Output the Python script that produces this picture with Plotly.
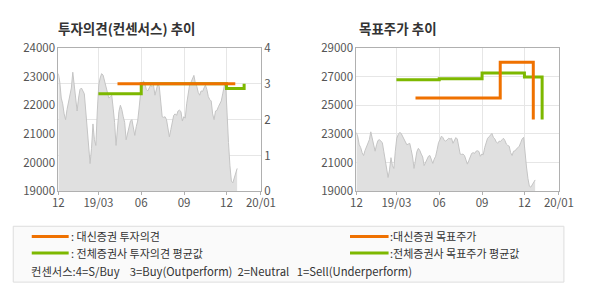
import plotly.graph_objects as go
import pandas as pd

# ---------------- data ----------------
price_start = "2018-12-05"
price_end = "2019-12-24"
price = [23100, 22800, 22250, 22050, 21700, 21500, 21850, 22100, 22250, 22600,
         23150, 22750, 22200, 21800, 22250, 22550, 22600, 22500, 22400, 21800,
         21100, 20450, 19970, 20500, 21350, 20800, 20600, 21800, 22700, 22950,
         23100, 23050, 22850, 22700, 22440, 22250, 22300, 22350, 21900, 21400,
         20600, 21300, 21780, 22000, 21850, 21600, 21400, 20800, 21000, 21300,
         21450, 21500, 21200, 20950, 21250, 21450, 21900, 22400, 22600, 22850,
         22750, 22550, 22500, 22600, 22700, 22650, 22700, 22350, 22600, 22750,
         22650, 22100, 21600, 21580, 21600, 21500, 21230, 20900, 21150, 21400,
         21650, 21700, 21650, 21800, 21830, 21780, 21450, 21600, 21550, 22050,
         22450, 22700, 22800, 22900, 23040, 22770, 22660, 22450, 22350, 22500,
         22480, 22600, 22700, 22550, 22300, 22200, 22150, 21700, 21500, 21800,
         21820, 21950, 22050, 22150, 22400, 22660, 22770, 21500, 20700, 19900,
         19360, 19300, 19500, 19700, 19800]

op_dates = ["2019-04-11", "2019-12-20"]          # 대신증권 투자의견
op_vals = [3, 3]
cons_op_dates = ["2019-03-01", "2019-06-01", "2019-12-01", "2020-01-08"]
cons_op_vals = [2.72, 3.0, 2.87, 3.0]             # 전체증권사 투자의견 평균값

tp_dates = ["2019-04-11", "2019-10-10", "2019-12-20"]   # 대신증권 목표주가
tp_vals = [25500, 28000, 24000]
cons_tp_dates = ["2019-03-01", "2019-06-01", "2019-09-01", "2019-12-01", "2020-01-08"]
cons_tp_vals = [26780, 26850, 27250, 26970, 24000]      # 전체증권사 목표주가 평균값

x_range = ["2018-12-05", "2020-02-13"]
tick_dates = ["2018-12-05", "2019-03-01", "2019-06-01", "2019-09-01", "2019-12-01", "2020-02-13"]
tick_text = ["12", "19/03", "06", "09", "12", "20/01"]

# ---------------- style ----------------
ORANGE = "#EF7100"
GREEN = "#7DB800"
W, H = 590, 300
FONT = "Noto Sans CJK KR, Liberation Sans, sans-serif"

def px(x):
    return x / W

def py(y):
    return 1 - y / H

dates = pd.date_range(price_start, price_end, periods=len(price))

fig = go.Figure()

# left chart
fig.add_trace(go.Scatter(x=dates, y=price, mode="lines", fill="tozeroy",
                         fillcolor="#e0e0e0", line=dict(color="#c4c4c4", width=1),
                         xaxis="x", yaxis="y", showlegend=False))
fig.add_trace(go.Scatter(x=cons_op_dates, y=cons_op_vals, mode="lines",
                         line=dict(color=GREEN, width=3, shape="hv"),
                         xaxis="x", yaxis="y2", showlegend=False))
fig.add_trace(go.Scatter(x=op_dates, y=op_vals, mode="lines",
                         line=dict(color=ORANGE, width=3, shape="hv"),
                         xaxis="x", yaxis="y2", showlegend=False))

# right chart
fig.add_trace(go.Scatter(x=dates, y=price, mode="lines", fill="tozeroy",
                         fillcolor="#e0e0e0", line=dict(color="#c4c4c4", width=1),
                         xaxis="x2", yaxis="y3", showlegend=False))
fig.add_trace(go.Scatter(x=cons_tp_dates, y=cons_tp_vals, mode="lines",
                         line=dict(color=GREEN, width=3, shape="hv"),
                         xaxis="x2", yaxis="y3", showlegend=False))
fig.add_trace(go.Scatter(x=tp_dates, y=tp_vals, mode="lines",
                         line=dict(color=ORANGE, width=3, shape="hv"),
                         xaxis="x2", yaxis="y3", showlegend=False))

tickfont = dict(family=FONT, size=11.5, color="#555555")
LINE = "#b0b0b0"
GRID = "#e6e6e6"

xcommon = dict(type="date", range=x_range, tickvals=tick_dates, ticktext=tick_text,
               showgrid=True, gridcolor=GRID, gridwidth=1,
               showline=True, linecolor=LINE, linewidth=1, mirror=True,
               ticks="outside", ticklen=3, tickcolor=LINE, tickfont=tickfont,
               ticklabelstandoff=-2,
               zeroline=False, fixedrange=True)

fig.update_layout(
    width=W, height=H,
    margin=dict(l=0, r=0, t=0, b=0),
    paper_bgcolor="white", plot_bgcolor="white",
    font=dict(family=FONT, color="#333333"),
    xaxis=dict(domain=[px(54.3), px(264.3)], anchor="y", **xcommon),
    yaxis=dict(domain=[py(192.7), py(41)], range=[19000, 24000], tick0=19000, dtick=1000,
               tickformat="d", showgrid=False, showline=True, linecolor=LINE,
               mirror=False, ticks="", tickfont=tickfont, zeroline=False,
               anchor="x"),
    yaxis2=dict(overlaying="y", side="right", anchor="x", range=[0, 4], dtick=1,
                showgrid=True, gridcolor=GRID, showline=True, linecolor=LINE,
                ticks="", tickfont=tickfont, zeroline=False),
    xaxis2=dict(domain=[px(363.3), px(573.3)], anchor="y3", **xcommon),
    yaxis3=dict(domain=[py(192.7), py(41)], range=[19000, 29000], tick0=19000, dtick=2000,
                tickformat="d", showgrid=True, gridcolor=GRID, showline=True,
                linecolor=LINE, mirror=True, ticks="", tickfont=tickfont,
                zeroline=False, anchor="x2"),
)

# titles
fig.add_annotation(x=px(52), y=py(20.5), xref="paper", yref="paper", xanchor="left",
                   yanchor="middle", showarrow=False, text="<b>투자의견(컨센서스) 추이</b>",
                   font=dict(family=FONT, size=13.5, color="#333333"))
fig.add_annotation(x=px(364), y=py(20.5), xref="paper", yref="paper", xanchor="left",
                   yanchor="middle", showarrow=False, text="<b>목표주가 추이</b>",
                   font=dict(family=FONT, size=13.5, color="#333333"))

# legend box
fig.add_shape(type="rect", xref="paper", yref="paper", x0=px(7.5), x1=px(578.5),
              y0=py(288.5), y1=py(229.5), line=dict(color="#dddddd", width=1),
              fillcolor="#fafafa", layer="below")

legend_items = [
    (26.7, 65, 240.3, ORANGE, 65, ": 대신증권 투자의견"),
    (26.7, 65, 257.7, GREEN, 65, ": 전체증권사 투자의견 평균값"),
    (356.7, 396.7, 240.3, ORANGE, 396.5, ":대신증권 목표주가"),
    (356.7, 396.7, 257.7, GREEN, 396.5, ":전체증권사 목표주가 평균값"),
]
lfont = dict(family=FONT, size=11, color="#333333")
for x0, x1, yy, col, tx, label in legend_items:
    fig.add_shape(type="line", xref="paper", yref="paper", x0=px(x0), x1=px(x1),
                  y0=py(yy), y1=py(yy), line=dict(color=col, width=3))
    fig.add_annotation(x=px(tx), y=py(yy), xref="paper", yref="paper", xanchor="left",
                       yanchor="middle", showarrow=False, text=label, font=lfont)

fig.add_annotation(x=px(24), y=py(276.7), xref="paper", yref="paper", xanchor="left",
                   yanchor="middle", showarrow=False,
                   text="컨센서스:4=S/Buy&nbsp;&nbsp;&nbsp;&nbsp;3=Buy(Outperform)&nbsp;&nbsp;2=Neutral&nbsp;&nbsp;&nbsp;1=Sell(Underperform)",
                   font=dict(family=FONT, size=11.3, color="#333333"))

fig.write_html("out.html")
